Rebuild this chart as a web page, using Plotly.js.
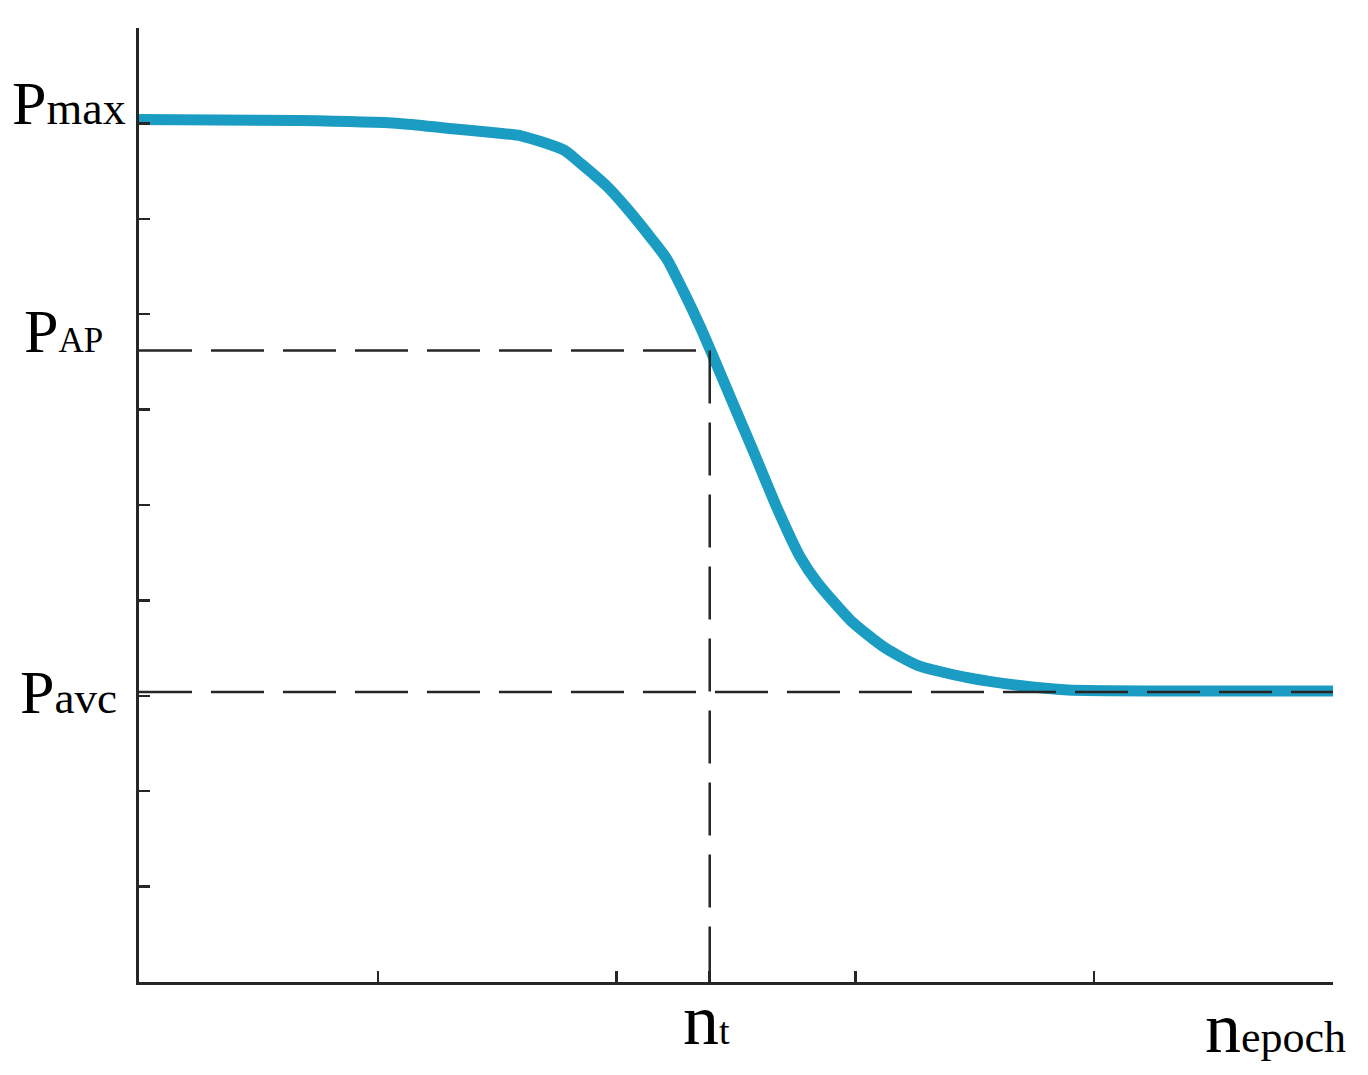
<!DOCTYPE html>
<html>
<head>
<meta charset="utf-8">
<script src="https://cdn.plot.ly/plotly-3.0.1.min.js"></script>
<style>
  html, body { margin: 0; padding: 0; background: #fff; }
  #chart { width: 1368px; height: 1075px; }
</style>
</head>
<body>
<div id="chart"></div>
<script>
// curve (n on x, P on y)
const nX = [0, 0.67, 1.09, 1.29, 1.50, 1.60, 1.78, 1.85, 1.96, 2.04, 2.15, 2.21, 2.28, 2.35, 2.39,
  2.49, 2.57, 2.67, 2.77, 2.84, 2.98, 3.12, 3.26, 3.47, 3.68, 3.89, 4.30, 5.00];
const pY = [9.04, 9.03, 9.00, 8.95, 8.90, 8.87, 8.72, 8.58, 8.34, 8.12, 7.78, 7.58, 7.24, 6.87, 6.64,
  6.05, 5.58, 4.98, 4.45, 4.19, 3.79, 3.51, 3.32, 3.19, 3.11, 3.06, 3.05, 3.05];

// reference levels
const pMax = 9.04;
const pAP = 6.62;
const pAvc = 3.04;
const nT = 2.39;
const nEpoch = 5;

// tick positions
const xTicks = [1, 2, nT, 3, 4, 5];
const yTicks = [1, 2, 3, 4, 5, 6, 7, 8, 9, 10];

const axisColor = '#262626';
const serif = 'Liberation Serif, Times New Roman, serif';

const curve = {
  x: nX,
  y: pY,
  type: 'scatter',
  mode: 'lines',
  line: { color: '#1b9cc2', width: 11, shape: 'spline', smoothing: 0.6 },
  hoverinfo: 'skip',
  showlegend: false
};

const dash = { color: axisColor, width: 2.5, dash: '53px,19px' };

const shapes = [
  { type: 'line', xref: 'x', yref: 'y', x0: 0, x1: nT, y0: pAP, y1: pAP, line: dash },
  { type: 'line', xref: 'x', yref: 'y', x0: nT, x1: nT, y0: pAP, y1: 0, line: dash },
  { type: 'line', xref: 'x', yref: 'y', x0: 0, x1: nEpoch, y0: pAvc, y1: pAvc, line: dash }
];

function label(big, small, smallSize) {
  return big + '<span style="font-size:' + smallSize + 'px">' + small + '</span>';
}

const annotations = [
  { xref: 'paper', yref: 'y', x: -0.1080, y: pMax, xanchor: 'left', yanchor: 'middle', yshift: 17,
    text: label('P', 'max', 46), showarrow: false, font: { family: serif, size: 62, color: '#000' } },
  { xref: 'paper', yref: 'y', x: -0.0980, y: pAP, xanchor: 'left', yanchor: 'middle', yshift: 19,
    text: label('P', 'AP', 35), showarrow: false, font: { family: serif, size: 62, color: '#000' } },
  { xref: 'paper', yref: 'y', x: -0.1010, y: pAvc, xanchor: 'left', yanchor: 'middle', yshift: 0,
    text: label('P', 'avc', 45), showarrow: false, font: { family: serif, size: 62, color: '#000' } },
  { xref: 'x', yref: 'paper', x: nT, y: 0, xanchor: 'center', yanchor: 'top', xshift: -3, yshift: 4,
    text: label('n', 't', 38), showarrow: false, font: { family: serif, size: 72, color: '#000' } },
  { xref: 'x', yref: 'paper', x: nEpoch, y: 0, xanchor: 'center', yanchor: 'top', xshift: -58, yshift: -4,
    text: label('n', 'epoch', 44), showarrow: false, font: { family: serif, size: 72, color: '#000' } }
];

const layout = {
  width: 1368,
  height: 1075,
  margin: { l: 139, r: 35, t: 28, b: 93 },
  paper_bgcolor: '#fff',
  plot_bgcolor: '#fff',
  showlegend: false,
  xaxis: {
    range: [0, nEpoch],
    showgrid: false,
    zeroline: false,
    showline: true,
    linecolor: axisColor,
    linewidth: 3,
    ticks: 'inside',
    tickmode: 'array',
    tickvals: xTicks,
    ticklen: 11,
    tickwidth: 2.5,
    tickcolor: axisColor,
    showticklabels: false
  },
  yaxis: {
    range: [0, 10],
    showgrid: false,
    zeroline: false,
    showline: true,
    linecolor: axisColor,
    linewidth: 3,
    ticks: 'inside',
    tickmode: 'array',
    tickvals: yTicks,
    ticklen: 11,
    tickwidth: 2.5,
    tickcolor: axisColor,
    showticklabels: false
  },
  shapes: shapes,
  annotations: annotations
};

Plotly.newPlot('chart', [curve], layout, { staticPlot: true, displayModeBar: false });
</script>
</body>
</html>
